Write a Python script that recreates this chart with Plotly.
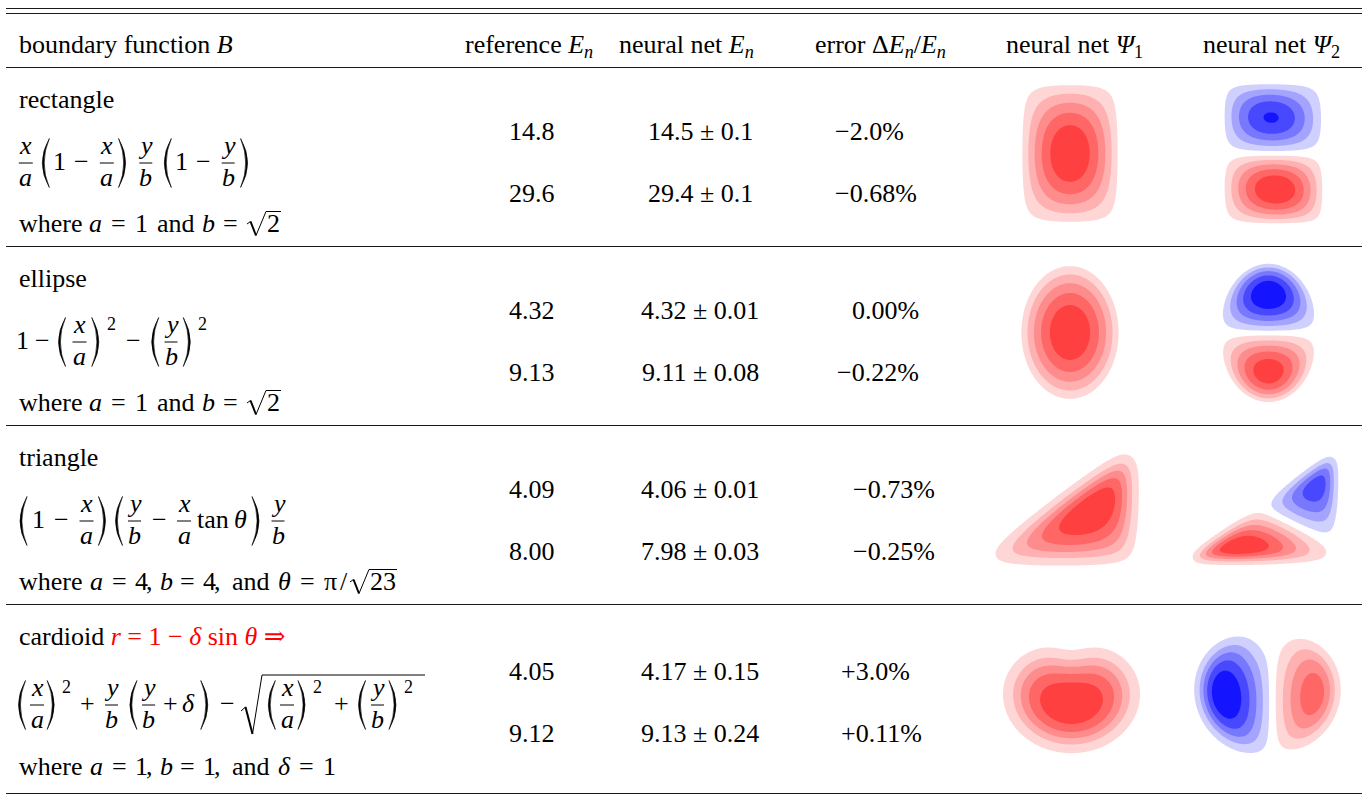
import numpy as np
import plotly.graph_objects as go

W, H = 1366, 795
FONT = "Liberation Serif, DejaVu Serif, Times New Roman, serif"
FS = 26

# ---------------- table values ----------------
shape_names = ["rectangle", "ellipse", "triangle", "cardioid"]
ref_E = [14.8, 29.6, 4.32, 9.13, 4.09, 8.00, 4.05, 9.12]
net_E = [14.5, 29.4, 4.32, 9.11, 4.06, 7.98, 4.17, 9.13]
net_dE = [0.1, 0.1, 0.01, 0.08, 0.01, 0.03, 0.15, 0.24]
E_digits = [1, 1, 2, 2, 2, 2, 2, 2]
err_pct = [-2.0, -0.68, 0.00, -0.22, -0.73, -0.25, 3.0, 0.11]
err_digits = [1, 2, 2, 2, 2, 2, 1, 2]

# boundary parameters
rect_ab = (1.0, np.sqrt(2.0))
ellipse_ab = (1.0, np.sqrt(2.0))
tri_abt = (4.0, 4.0, np.pi / np.sqrt(23.0))
card_abd = (1.0, 1.0, 1.0)

# relative peak heights of the two lobes of Psi_2 (positive, negative)
psi2_peak_pos = [1.0, 0.95, 1.0, 0.75]
psi2_peak_neg = [0.84, 1.0, 0.75, 1.0]
# nodal line of the triangle Psi_2 and of the cardioid Psi_2
tri_node = [(1.97, 1.51), (4.0, 0.45)]
card_node_x = 0.08

reds = ["#ffd6d6", "#ffb0b0", "#ff8c8c", "#ff6666", "#ff4040"]
blues = ["#d0d0ff", "#a4a4ff", "#7878ff", "#4848ff", "#1414ff"]

# pixel extents (x0, x1, y0, y1) of the coloured area of each panel
panel_px = [
    (1023, 1117, 86, 221), (1225, 1322, 85, 223),
    (1022, 1118, 267, 398), (1223, 1314, 264, 402),
    (996, 1138, 455, 565), (1193, 1338, 457, 565),
    (1003, 1140, 648, 753), (1195, 1340, 637, 753),
]


def X(p):
    return p / W


def Y(p):
    return 1 - p / H


annotations = []
shapes = []


def text(x, base, s, size=FS, anchor="left", color="#000000"):
    annotations.append(dict(
        x=X(x), y=Y(base - 0.891 * size), xref="paper", yref="paper",
        xanchor=anchor, yanchor="top", text=s, showarrow=False,
        font=dict(family=FONT, size=size, color=color), borderpad=0))


def hline(y, x0=6, x1=1362, width=1.0, color="#1a1a1a"):
    shapes.append(dict(type="line", xref="paper", yref="paper",
                       x0=X(x0), x1=X(x1), y0=Y(y), y1=Y(y),
                       line=dict(color=color, width=width)))


def frac(cx, A, num, den, w=14):
    text(cx, A - 10, num, anchor="center")
    text(cx, A + 22.5, den, anchor="center")
    hline(A, cx - w / 2, cx + w / 2, width=1.0, color="#000000")


def paren(cx, A, left=True, half=24.5, w=7.0, t=1.9):
    s = -1 if left else 1
    tip = cx - s * w / 2
    out = cx + s * w / 2
    c_out = 2 * out - tip
    c_in = 2 * (out - s * t) - tip
    path = (f"M{X(tip)},{Y(A - half)} Q{X(c_out)},{Y(A)} {X(tip)},{Y(A + half)} "
            f"Q{X(c_in)},{Y(A)} {X(tip)},{Y(A - half)} Z")
    shapes.append(dict(type="path", xref="paper", yref="paper", path=path,
                       fillcolor="#000000", line=dict(width=0.6, color="#000000")))


def polyline(pts, width=1.1):
    path = "M" + " L".join(f"{X(a)},{Y(b)}" for a, b in pts)
    shapes.append(dict(type="path", xref="paper", yref="paper", path=path,
                       line=dict(width=width, color="#000000")))


def radical(L, base, R):
    polyline([(L, base - 7), (L + 3.5, base - 9.5)], 1.0)
    polyline([(L + 3.5, base - 9.5), (L + 9, base + 4.5)], 2.0)
    polyline([(L + 9, base + 4.5), (L + 19, base - 19.5), (R, base - 19.5)], 1.0)


def sup(cx, A, s):
    text(cx, A - 13, s, size=18, anchor="center")


def sym(cx, A, s):
    text(cx, A + 6, s, anchor="center")


# ---------------- rules ----------------
for yy in (8.5, 13.5, 67.5, 246.5, 425.5, 604.5, 793.5):
    hline(yy)

# ---------------- header ----------------
HB = 52
En = "<i>E</i><sub><i>n</i></sub>"
text(18, HB, "boundary function <i>B</i>")
text(529, HB, "reference " + En, anchor="center")
text(686, HB, "neural net " + En, anchor="center")
text(880, HB, "error Δ" + En + "/" + En, anchor="center")
text(1074, HB, "neural net <i>Ψ</i><sub>1</sub>", anchor="center")
text(1271, HB, "neural net <i>Ψ</i><sub>2</sub>", anchor="center")

# ---------------- numeric columns ----------------
value_base = [139, 201, 318, 380, 497, 559, 679, 741]
err_anchor = [(834, "left"), (920, "right"), (852, "left"), (840, "left")]
for i in range(8):
    d = E_digits[i]
    text(532, value_base[i], f"{ref_E[i]:.{d}f}", anchor="center")
    text(700, value_base[i], f"{net_E[i]:.{d}f} ± {net_dE[i]:.{d}f}", anchor="center")
    v = err_pct[i]
    sign = "−" if v < 0 else ("+" if v > 0 else "")
    ex, ea = err_anchor[i // 2]
    text(ex, value_base[i], f"{sign}{abs(v):.{err_digits[i]}f}%", anchor=ea)

# ---------------- row labels ----------------
label_base = [107, 286, 465, 644]
for k in range(3):
    text(18, label_base[k], shape_names[k])
text(18, label_base[3], "cardioid <span style='color:#ff0000'><i>r</i> = 1 − "
     "<i>δ</i> sin <i>θ</i> ⇒</span>")

xi, ai, yi, bi = "<i>x</i>", "<i>a</i>", "<i>y</i>", "<i>b</i>"

# rectangle formula
A = 163
frac(25.8, A, xi, ai)
paren(45.8, A, True)
sym(59.4, A, "1")
sym(81.4, A, "−")
frac(106.8, A, xi, ai)
paren(122.1, A, False)
frac(145.8, A, yi, bi, 13)
paren(167.8, A, True)
sym(181.4, A, "1")
sym(203.4, A, "−")
frac(228.2, A, yi, bi, 13)
paren(244.1, A, False)

# ellipse formula
A = 342
sym(22, A, "1")
sym(42, A, "−")
paren(62, A, True)
frac(79.5, A, xi, ai)
paren(95.3, A, False)
sup(111.3, A, "2")
sym(133.6, A, "−")
paren(155.2, A, True)
frac(171, A, yi, bi, 13)
paren(186.8, A, False)
sup(202.8, A, "2")

# triangle formula
A = 521
paren(23.5, A, True)
sym(38, A, "1")
sym(61, A, "−")
frac(86.5, A, xi, ai)
paren(102, A, False)
paren(119, A, True)
frac(134.5, A, yi, bi, 13)
sym(159, A, "−")
frac(184, A, xi, ai)
sym(213, A, "tan")
sym(240, A, "<i>θ</i>")
paren(255.5, A, False)
frac(278, A, yi, bi, 13)

# cardioid formula
A = 705
paren(22, A, True)
frac(37, A, xi, ai)
paren(50.7, A, False)
sup(66.7, A, "2")
sym(87.9, A, "+")
frac(111.5, A, yi, bi, 13)
paren(133.4, A, True)
frac(148.6, A, yi, bi, 13)
sym(170.6, A, "+")
sym(188.4, A, "<i>δ</i>")
paren(204.3, A, False)
sym(227.9, A, "−")
polyline([(241, A + 6), (245.5, A + 2)], 1.0)
polyline([(245.5, A + 2), (252.5, A + 29)], 2.0)
polyline([(252.5, A + 29), (262, A - 30), (425, A - 30)], 1.0)
paren(271.8, A, True)
frac(287, A, xi, ai)
paren(301.5, A, False)
sup(317.5, A, "2")
sym(341, A, "+")
paren(362, A, True)
frac(377.5, A, yi, bi, 13)
paren(392.5, A, False)
sup(408.5, A, "2")

# "where" lines
where_base = [231, 410, 589, 774]
for Bw in where_base[:2]:
    text(18, Bw, "where")
    text(95.8, Bw, ai, anchor="center")
    text(118.7, Bw, "=", anchor="center")
    text(141.3, Bw, "1", anchor="center")
    text(155.7, Bw, "and")
    text(208.9, Bw, bi, anchor="center")
    text(230.7, Bw, "=", anchor="center")
    radical(247, Bw, 281)
    text(273.8, Bw, "2", anchor="center")

Bw = where_base[2]
text(18, Bw, "where")
for cx, s in [(96.2, ai), (119.4, "="), (141.5, "4"), (149.8, ","), (166.5, bi),
              (187.5, "="), (209.3, "4"), (217.6, ","), (250.6, "and"),
              (284.7, "<i>θ</i>"), (307, "="), (330.6, "π"), (343.9, "/")]:
    text(cx, Bw, s, anchor="center")
radical(350, Bw, 397)
text(383.5, Bw, "23", anchor="center")

Bw = where_base[3]
text(18, Bw, "where")
for cx, s in [(96.2, ai), (119.4, "="), (141.5, "1"), (149.8, ","), (166.5, bi),
              (187.5, "="), (209.3, "1"), (217.6, ","), (250.6, "and"),
              (284.4, "<i>δ</i>"), (306.4, "="), (329.1, "1")]:
    text(cx, Bw, s, anchor="center")


# ---------------- wave functions ----------------
def grid(xr, yr, n=201, pad=0.12):
    px_ = pad * (xr[1] - xr[0])
    py_ = pad * (yr[1] - yr[0])
    x = np.linspace(xr[0] - px_, xr[1] + px_, n)
    y = np.linspace(yr[0] - py_, yr[1] + py_, n)
    return x, y, *np.meshgrid(x, y)


def smooth(z, x, y, sigma):
    """Separable gaussian smoothing; sigma in data units."""
    out = z.copy()
    for axis, coords in ((1, x), (0, y)):
        s = sigma / (coords[1] - coords[0])
        m = int(np.ceil(3 * s))
        k = np.exp(-0.5 * (np.arange(-m, m + 1) / s) ** 2)
        k /= k.sum()
        out = np.apply_along_axis(lambda r: np.convolve(r, k, mode="same"), axis, out)
    return out


def levels(f, pos=1.0, neg=1.0):
    out = np.zeros_like(f)
    if f.max() > 0:
        out = out + np.where(f > 0, f / f.max() * pos, 0.0)
    if f.min() < 0:
        out = out + np.where(f < 0, f / (-f.min()) * neg, 0.0)
    return 11.0 * out


fields = []

# rectangle
a, b = rect_ab
x, y, XX, YY = grid((0.0, a), (0.0, b))
inside = (XX > 0) & (XX < a) & (YY > 0) & (YY < b)
p1 = np.where(inside, np.sin(np.pi * XX / a) * np.sin(np.pi * YY / b), 0.0)
skew = 1 - 0.8 * (XX / a - 0.5) * (YY / b - 0.5)
p2 = np.where(inside, np.sin(np.pi * XX / a) * np.sin(2 * np.pi * YY / b) * skew, 0.0)
fields.append((x, y, levels(p1)))
fields.append((x, y, levels(p2, psi2_peak_pos[0], psi2_peak_neg[0])))

# ellipse
a, b = ellipse_ab
x, y, XX, YY = grid((-a, a), (-b, b))
r = np.sqrt((XX / a) ** 2 + (YY / b) ** 2)
inside = r < 1
p1 = np.where(inside, np.cos(np.pi * r / 2), 0.0)
p2 = np.where(inside, -(YY / b) * np.clip(1 - r ** 2, 0, None) ** 1.2, 0.0)
fields.append((x, y, levels(p1)))
fields.append((x, y, levels(p2, psi2_peak_pos[1], psi2_peak_neg[1])))

# triangle
a, b, th = tri_abt
t = np.tan(th)
x, y, XX, YY = grid((0.0, a), (0.0, b * t), pad=0.15)
u, v = XX / a, YY / b
Bt = (1 - u) * (v - u * t) * v
inside = (v > 0) & (v < u * t) & (u < 1)
g = np.where(inside, np.clip(-Bt, 0, None), 0.0)
lift = 1 + 1.6 * v / t
(n1x, n1y), (n2x, n2y) = tri_node
side = -(XX - n1x) * (n1y - n2y) - (YY - n1y) * (n2x - n1x)
p1 = smooth(g ** 0.55 * lift, x, y, 0.2)
p2 = smooth(g ** 0.55 * side, x, y, 0.13)
fields.append((x, y, levels(p1)))
fields.append((x, y, levels(p2, psi2_peak_pos[2], psi2_peak_neg[2])))

# cardioid
a, b, dl = card_abd
x, y, XX, YY = grid((-1.3, 1.3), (-2.0, 0.25), pad=0.15)
Bc = (XX / a) ** 2 + (YY / b) * (YY / b + dl) - np.sqrt((XX / a) ** 2 + (YY / b) ** 2)
g = np.clip(-Bc, 0, None)
p1 = smooth(g ** 0.72, x, y, 0.22)
p2 = smooth((XX - card_node_x) * g ** 0.7, x, y, 0.12)
fields.append((x, y, levels(p1)))
fields.append((x, y, levels(p2, psi2_peak_pos[3], psi2_peak_neg[3])))

colorscale = [[0.0, blues[4]], [0.1, blues[3]], [0.2, blues[2]], [0.3, blues[1]],
              [0.4, blues[0]], [0.5, "#ffffff"], [0.6, reds[0]], [0.7, reds[1]],
              [0.8, reds[2]], [0.9, reds[3]], [1.0, reds[4]]]

MARGIN = 6  # px of white around each coloured area
fig = go.Figure()
layout_axes = {}
for k, ((x, y, z), (sx0, sx1, sy0, sy1)) in enumerate(zip(fields, panel_px), start=1):
    sfx = "" if k == 1 else str(k)
    fig.add_trace(go.Contour(
        x=x, y=y, z=z, xaxis="x" + sfx, yaxis="y" + sfx,
        autocontour=False,
        contours=dict(start=-9, end=9, size=2, coloring="fill", showlines=False),
        colorscale=colorscale, showscale=False,
        line=dict(width=0, smoothing=1.0), hoverinfo="skip"))
    # extent of the coloured (|z| above the first level) region in data units
    mask = np.abs(z) >= 1.0
    xs = x[mask.any(axis=0)]
    ys = y[mask.any(axis=1)]
    kx = (xs.max() - xs.min()) / (sx1 - sx0)
    ky = (ys.max() - ys.min()) / (sy1 - sy0)
    layout_axes["xaxis" + sfx] = dict(
        domain=[X(sx0 - MARGIN), X(sx1 + MARGIN)],
        range=[xs.min() - MARGIN * kx, xs.max() + MARGIN * kx],
        visible=False, anchor="y" + sfx, fixedrange=True)
    layout_axes["yaxis" + sfx] = dict(
        domain=[Y(sy1 + MARGIN), Y(sy0 - MARGIN)],
        range=[ys.min() - MARGIN * ky, ys.max() + MARGIN * ky],
        visible=False, anchor="x" + sfx, fixedrange=True)

fig.update_layout(
    width=W, height=H, margin=dict(l=0, r=0, t=0, b=0),
    paper_bgcolor="#ffffff", plot_bgcolor="#ffffff",
    font=dict(family=FONT),
    showlegend=False, annotations=annotations, shapes=shapes,
    **layout_axes)

fig.write_html("out.html")
